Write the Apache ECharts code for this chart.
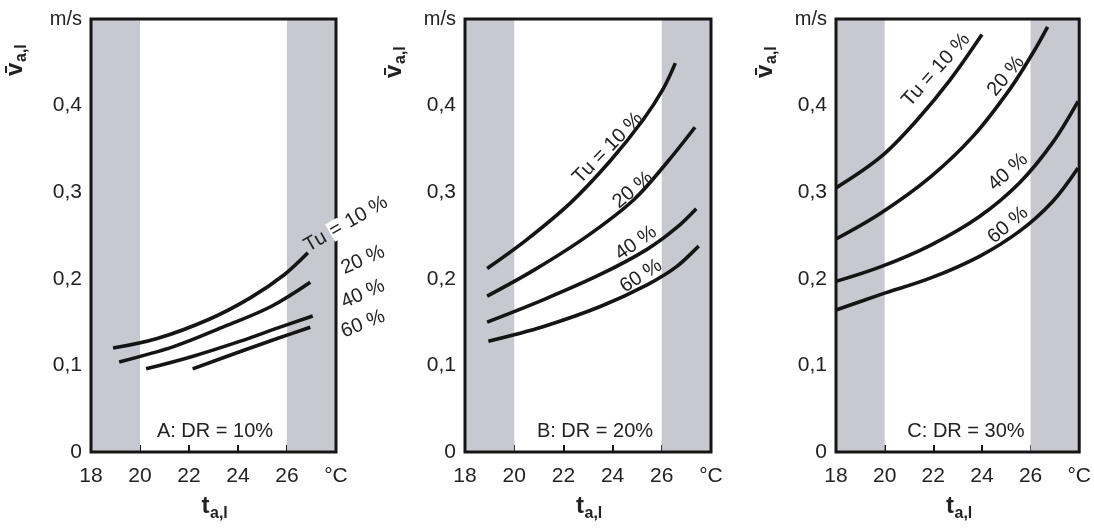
<!DOCTYPE html>
<html>
<head>
<meta charset="utf-8">
<script src="https://cdn.jsdelivr.net/npm/echarts@6/dist/echarts.min.js"></script>
<style>
  html, body { margin: 0; padding: 0; background: #ffffff; }
  #chart { width: 1094px; height: 529px; }
</style>
</head>
<body>
<div id="chart"></div>
<script>
// ---- data (x = t_a,l in °C, y = v_a,l in m/s) ----
const panelTitles = ['A: DR = 10%', 'B: DR = 20%', 'C: DR = 30%'];
const tuLabels = ['Tu = 10 %', '20 %', '40 %', '60 %'];
const xTicks = [18, 20, 22, 24, 26];
const xUnit = '°C';
const yUnit = 'm/s';
const comfortBands = [[18, 20], [26, 28]];

const a10 = [[18.9, 0.120], [20.7, 0.131], [22.8, 0.153], [24.5, 0.178], [25.9, 0.205], [26.85, 0.230]];
const a20 = [[19.15, 0.104], [21.4, 0.122], [23.45, 0.145], [25.35, 0.168], [26.95, 0.196]];
const a40 = [[20.25, 0.096], [22.1, 0.110], [24.1, 0.128], [25.6, 0.143], [27.05, 0.157]];
const a60 = [[22.15, 0.096], [24.1, 0.116], [25.6, 0.131], [26.95, 0.144]];

const b10 = [[18.9, 0.212], [20.5, 0.245], [22.3, 0.288], [23.9, 0.336], [25.25, 0.384], [26.05, 0.419], [26.55, 0.449]];
const b20 = [[18.9, 0.180], [20.8, 0.210], [22.95, 0.249], [24.85, 0.291], [26.2, 0.334], [27.35, 0.375]];
const b40 = [[18.9, 0.150], [21.2, 0.176], [23.5, 0.205], [25.4, 0.234], [26.6, 0.259], [27.4, 0.281]];
const b60 = [[18.95, 0.128], [21.2, 0.145], [23.5, 0.168], [25.4, 0.193], [26.6, 0.214], [27.5, 0.238]];

const c10 = [[18.0, 0.305], [19.85, 0.341], [21.35, 0.384], [22.7, 0.430], [24.0, 0.482]];
const c20 = [[18.0, 0.246], [19.85, 0.276], [21.9, 0.318], [23.65, 0.365], [25.15, 0.419], [26.1, 0.461], [26.7, 0.491]];
const c40 = [[18.0, 0.197], [19.85, 0.214], [21.9, 0.239], [23.9, 0.272], [25.55, 0.311], [26.9, 0.357], [27.95, 0.405]];
const c60 = [[18.0, 0.164], [19.85, 0.182], [21.9, 0.201], [23.9, 0.226], [25.55, 0.255], [26.9, 0.289], [27.95, 0.328]];

const panels = [[a10, a20, a40, a60], [b10, b20, b40, b60], [c10, c20, c40, c60]];

// ---- layout / style ----
const FONT = "'Liberation Sans', Arial, Helvetica, sans-serif";
const INK = '#151515';
const BAND = '#c7c8d0';
const gridBoxes = [
  { left: 91, width: 245 },
  { left: 465, width: 246 },
  { left: 836, width: 244 }
];
const gridTop = 19, gridHeight = 433;

const grids = [], xAxes = [], yAxes = [], series = [];
gridBoxes.forEach(function (g, i) {
  grids.push({
    left: g.left, top: gridTop, width: g.width, height: gridHeight,
    show: true, borderColor: INK, borderWidth: 3, backgroundColor: 'transparent', z: 5
  });
  xAxes.push({
    type: 'value', gridIndex: i, min: 18, max: 28, interval: 2,
    axisLine: { show: false },
    axisTick: { show: true, inside: true, length: 7, lineStyle: { color: INK, width: 2 } },
    splitLine: { show: false },
    axisLabel: {
      margin: 14, color: '#222', fontFamily: FONT, fontSize: 21,
      formatter: function (v) { return xTicks.indexOf(v) >= 0 ? String(v) : (v === 28 ? xUnit : ''); }
    }
  });
  yAxes.push({
    type: 'value', gridIndex: i, min: 0, max: 0.5, interval: 0.1,
    axisLine: { show: false },
    axisTick: { show: true, inside: true, length: 7, lineStyle: { color: INK, width: 2 } },
    splitLine: { show: false },
    axisLabel: {
      margin: 9, color: '#222', fontFamily: FONT, fontSize: 21,
      formatter: function (v) {
        if (Math.abs(v - 0.5) < 1e-6) return '{u|' + yUnit + '}';
        if (v === 0) return '0';
        return v.toFixed(1).replace('.', ',');
      },
      rich: { u: { fontFamily: FONT, fontSize: 20, color: '#222' } }
    }
  });
  series.push({
    type: 'line', xAxisIndex: i, yAxisIndex: i, data: [], z: 1, silent: true,
    markArea: {
      silent: true,
      itemStyle: { color: BAND },
      label: { show: false },
      data: comfortBands.map(function (b) { return [{ xAxis: b[0] }, { xAxis: b[1] }]; })
    }
  });
  panels[i].forEach(function (curve, k) {
    series.push({
      type: 'line', name: tuLabels[k], xAxisIndex: i, yAxisIndex: i, data: curve,
      smooth: 0.35, showSymbol: false, z: 3, silent: true,
      lineStyle: { color: INK, width: 3.6 }
    });
  });
});

function txt(x, y, text, deg, size, align, weight) {
  return {
    type: 'text', x: x, y: y, rotation: (deg || 0) * Math.PI / 180, z: 10, silent: true,
    style: {
      text: text, fontFamily: FONT, fontSize: size || 20, fontWeight: weight || 'normal',
      fill: '#222', align: align || 'center', verticalAlign: 'middle'
    }
  };
}
// label whose "=" sits on a white patch where it crosses the frame
function haloTu(x, y, deg) {
  const parts = tuLabels[0].split('=');
  return {
    type: 'text', x: x, y: y, rotation: deg * Math.PI / 180, z: 10, silent: true,
    style: {
      text: parts[0] + '{w|=}' + parts[1],
      fontFamily: FONT, fontSize: 20, fill: '#222', align: 'center', verticalAlign: 'middle',
      rich: { w: { fontFamily: FONT, fontSize: 20, fill: '#222', backgroundColor: '#ffffff', padding: [0, 1, 0, 1] } }
    }
  };
}
// x-axis title  t_a,l  centred at cx
function xTitle(cx) {
  return [
    txt(cx - 4, 506.5, 't', 0, 24, 'right', 'bold'),
    txt(cx - 3.5, 514, 'a,l', 0, 16, 'left', 'bold')
  ];
}
// y-axis title  v̄_a,l  rotated, reading upward
function yTitle(bx, by) {
  return [
    txt(bx, by, 'v\u0304', 90, 24, 'left', 'bold'),
    txt(bx + 7, by - 14, 'a,l', 90, 16, 'left', 'bold')
  ];
}

const graphics = [
  txt(215, 431, panelTitles[0]),
  txt(595, 431, panelTitles[1]),
  txt(966, 431, panelTitles[2]),
  // curve labels panel A
  haloTu(346, 224, 30), txt(363, 260, tuLabels[1], 24), txt(363, 294, tuLabels[2], 24), txt(363, 324, tuLabels[3], 22),
  // panel B
  txt(608, 148, tuLabels[0], 46), txt(633, 190, tuLabels[1], 40), txt(636, 243, tuLabels[2], 35), txt(641, 276, tuLabels[3], 33),
  // panel C
  txt(936, 70, tuLabels[0], 48), txt(1006, 76, tuLabels[1], 50), txt(1008, 172, tuLabels[2], 42), txt(1008, 225, tuLabels[3], 40)
].concat(
  xTitle(213.5), xTitle(588), xTitle(958),
  yTitle(15, 76), yTitle(394, 78), yTitle(765, 78)
);

const chart = echarts.init(document.getElementById('chart'), null, { renderer: 'canvas' });
chart.setOption({
  animation: false,
  backgroundColor: '#ffffff',
  grid: grids, xAxis: xAxes, yAxis: yAxes, series: series,
  graphic: graphics
});
</script>
</body>
</html>
